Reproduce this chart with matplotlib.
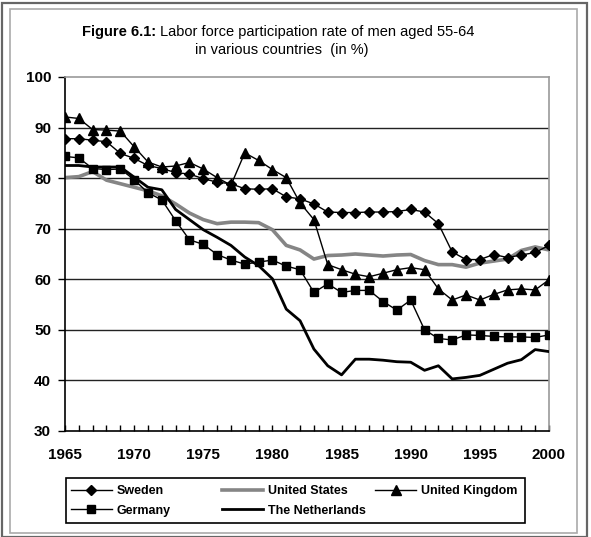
import matplotlib
matplotlib.use("Agg")
import matplotlib.pyplot as plt
from matplotlib.patches import Rectangle
from matplotlib.ticker import MultipleLocator

plt.rcParams['font.family'] = ['Liberation Sans', 'DejaVu Sans']

years = list(range(1965, 2001))
sweden = [87.8, 87.8, 87.5, 87.2, 84.9, 83.9, 82.5, 81.9, 81.1, 80.8, 79.9,
          79.2, 78.9, 77.9, 77.8, 77.9, 76.3, 75.9, 74.9, 73.3, 73.2,
          73.2, 73.3, 73.3, 73.4, 73.8, 73.3, 71.0, 65.4, 63.9, 63.9,
          64.9, 64.3, 64.8, 65.3, 66.7]
united_states = [80.1, 80.3, 81.3, 79.6, 78.9, 78.2, 77.5, 76.5, 74.9, 73.1, 71.8,
                 71.0, 71.3, 71.3, 71.2, 69.8, 66.7, 65.8, 64.0, 64.7, 64.8,
                 65.0, 64.8, 64.6, 64.8, 64.9, 63.7, 62.9, 62.9, 62.4, 63.2,
                 63.6, 64.0, 65.7, 66.4, 65.8]
united_kingdom = [92.1, 91.8, 89.6, 89.5, 89.3, 86.2, 83.2, 82.2, 82.4, 83.1, 81.8,
                  80.1, 78.6, 85.0, 83.5, 81.7, 80.1, 75.1, 71.8, 62.9, 61.9,
                  61.0, 60.5, 61.2, 61.9, 62.3, 61.9, 58.1, 55.9, 56.9, 55.9,
                  57.0, 57.9, 58.1, 57.9, 59.9]
germany = [84.3, 84.0, 81.9, 81.7, 81.8, 79.7, 77.1, 75.7, 71.6, 67.8, 66.9,
           64.9, 63.8, 63.0, 63.4, 63.8, 62.6, 61.9, 57.4, 59.1, 57.4,
           57.8, 57.8, 55.6, 53.9, 55.9, 50.0, 48.3, 48.0, 49.0, 48.9,
           48.7, 48.6, 48.6, 48.5, 49.0]
netherlands = [82.5, 82.5, 82.2, 82.2, 82.2, 80.2, 78.2, 77.7, 73.8, 71.8, 69.8,
               68.3, 66.7, 64.4, 62.7, 60.1, 54.1, 51.8, 46.2, 42.9, 41.1,
               44.2, 44.2, 44.0, 43.7, 43.6, 42.0, 42.9, 40.3, 40.6, 41.0,
               42.2, 43.4, 44.1, 46.1, 45.7]
x_ticks = [1965, 1970, 1975, 1980, 1985, 1990, 1995, 2000]
y_ticks = [30, 40, 50, 60, 70, 80, 90, 100]

W, H = 591, 537
fig = plt.figure(figsize=(W / 100, H / 100), dpi=100)

# outer frames
fig.add_artist(Rectangle((2 / W, 0), 585 / W, 1 - 3 / H, transform=fig.transFigure,
                         fill=False, edgecolor='#666666', lw=1.6))
fig.add_artist(Rectangle((10 / W, 1 - 533 / H), 567 / W, 524 / H, transform=fig.transFigure,
                         fill=False, edgecolor='#aaaaaa', lw=1.2))

ax = fig.add_axes([65 / W, 1 - 431 / H, 484 / W, 354 / H])

for yv in y_ticks[1:-1]:
    ax.axhline(yv, color='#222222', lw=1.0, zorder=1)

ax.plot(years, united_states, color='#858585', lw=2.6, zorder=2, label='United States')
ax.plot(years, netherlands, color='black', lw=2.0, zorder=3, label='The Netherlands')
ax.plot(years, germany, color='black', lw=1.0, marker='s', ms=6, zorder=4, label='Germany')
ax.plot(years, united_kingdom, color='black', lw=1.0, marker='^', ms=6.5, zorder=4, label='United Kingdom')
ax.plot(years, sweden, color='black', lw=1.0, marker='D', ms=5, zorder=5, label='Sweden')

ax.set_xlim(1965, 2000)
ax.set_ylim(30, 100)
ax.set_xticks(x_ticks)
ax.xaxis.set_minor_locator(MultipleLocator(1))
ax.set_yticks(y_ticks)
ax.tick_params(axis='x', which='both', direction='in', length=4, width=1, pad=12.5,
               labelsize=11)
ax.tick_params(axis='y', direction='out', length=5, width=1, pad=5, labelsize=11)
for lab in ax.get_xticklabels() + ax.get_yticklabels():
    lab.set_fontweight('bold')

ax.spines['left'].set_color('black')
ax.spines['bottom'].set_color('black')
ax.spines['top'].set_color('#999999')
ax.spines['right'].set_color('#999999')
for s in ax.spines.values():
    s.set_linewidth(1.2)

handles, labels = ax.get_legend_handles_labels()
hmap = dict(zip(labels, handles))

# legend frame
fig.add_artist(Rectangle((66 / W, 1 - 523 / H), 459 / W, 45 / H, transform=fig.transFigure,
                         fill=False, edgecolor='black', lw=1.2))
leg_kw = dict(frameon=False, prop={'weight': 'bold', 'size': 9}, handlelength=3.3,
              handletextpad=0.4, borderaxespad=0, labelspacing=0.6, borderpad=0)
groups = [(['Sweden', 'Germany'], 70.5, 501),
          (['United States', 'The Netherlands'], 222, 501),
          (['United Kingdom'], 375, 491)]
for names, xpx, ypx in groups:
    lg = fig.legend([hmap[k] for k in names], names, loc='center left',
                    bbox_to_anchor=(xpx / W, 1 - ypx / H), **leg_kw)

# title
fig.canvas.draw()
renderer = fig.canvas.get_renderer()
t1 = fig.text(82 / W, 1 - 32 / H, 'Figure 6.1:', fontsize=10.5, fontweight='bold',
              ha='left', va='center')
bb = t1.get_window_extent(renderer=renderer)
fig.text(bb.x1 / W + 4 / W, 1 - 32 / H, 'Labor force participation rate of men aged 55-64',
         fontsize=10.5, ha='left', va='center')
fig.text(282 / W, 1 - 50 / H, 'in various countries  (in %)', fontsize=10.5,
         ha='center', va='center')

fig.savefig('out.png', dpi=100)
